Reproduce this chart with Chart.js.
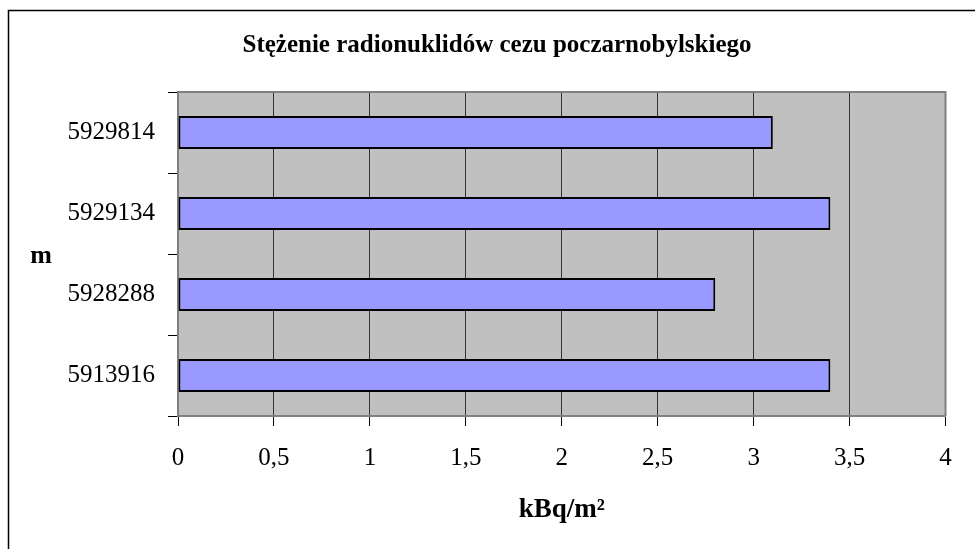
<!DOCTYPE html>
<html>
<head>
<meta charset="utf-8">
<script src="https://cdn.jsdelivr.net/npm/chart.js@4"></script>
<style>
  html, body { margin: 0; padding: 0; background: #fff; }
  #wrap { width: 975px; height: 549px; position: relative; }
</style>
</head>
<body>
<div id="wrap"><canvas id="cezChart"></canvas></div>
<script>
const categories = ["5929814", "5929134", "5928288", "5913916"];
const values = [3.1, 3.4, 2.8, 3.4];
const xTickLabels = ["0", "0,5", "1", "1,5", "2", "2,5", "3", "3,5", "4"];

const serif = "'Liberation Serif', 'Times New Roman', serif";

// gray plot background, plot border, outer frame and the horizontal "m" label
const decor = {
    id: "decor",
    beforeDraw(chart) {
        const { ctx, chartArea: a } = chart;
        ctx.save();
        ctx.fillStyle = "#C0C0C0";
        ctx.fillRect(a.left, a.top, a.right - a.left, a.bottom - a.top);
        ctx.restore();
    },
    afterDraw(chart) {
        const { ctx, chartArea: a } = chart;
        ctx.save();
        ctx.strokeStyle = "#808080";
        ctx.lineWidth = 2;
        ctx.beginPath();
        ctx.moveTo(a.left, a.top);
        ctx.lineTo(a.right, a.top);
        ctx.lineTo(a.right, a.bottom);
        ctx.stroke();

        // outer chart frame (cut at right and bottom)
        ctx.strokeStyle = "#000";
        ctx.lineWidth = 1.5;
        ctx.beginPath();
        ctx.moveTo(8.5, chart.height + 2);
        ctx.lineTo(8.5, 10.5);
        ctx.lineTo(chart.width + 2, 10.5);
        ctx.stroke();

        ctx.fillStyle = "#000";
        ctx.font = "bold 26px " + serif;
        ctx.textAlign = "center";
        ctx.textBaseline = "alphabetic";
        ctx.fillText("m", 41, 263);
        ctx.restore();
    },
};

new Chart(document.getElementById("cezChart"), {
    type: "bar",
    data: {
        labels: categories,
        datasets: [
            {
                data: values,
                backgroundColor: "#9999FF",
                borderColor: "#000",
                borderWidth: 2,
                borderSkipped: false,
                categoryPercentage: 1,
                barPercentage: 0.41,
            },
        ],
    },
    options: {
        indexAxis: "y",
        responsive: true,
        maintainAspectRatio: false,
        animation: false,
        layout: { padding: { left: 48.5, right: 29.5, top: 0, bottom: 0 } },
        plugins: {
            legend: { display: false },
            tooltip: { enabled: false },
            title: {
                display: true,
                text: "Stężenie radionuklidów cezu poczarnobylskiego",
                color: "#000",
                font: { family: serif, size: 25, weight: "bold" },
                padding: { top: 30.6, bottom: 31.4 },
            },
        },
        scales: {
            x: {
                min: 0,
                max: 4,
                ticks: {
                    stepSize: 0.5,
                    color: "#000",
                    font: { family: serif, size: 25 },
                    padding: 17,
                    maxRotation: 0,
                    callback: (v, i) => xTickLabels[i],
                },
                grid: {
                    color: (c) => (c.index === 0 || c.index === xTickLabels.length - 1 ? "rgba(0,0,0,0)" : "#333"),
                    lineWidth: 1,
                    tickColor: "#000",
                    tickLength: 10,
                },
                border: { display: true, color: "#808080", width: 2 },
                title: {
                    display: true,
                    text: "kBq/m²",
                    color: "#000",
                    font: { family: serif, size: 27, weight: "bold" },
                    padding: { top: 0, bottom: 23 },
                },
                afterFit: (s) => { s.height = 133; },
            },
            y: {
                ticks: {
                    color: "#000",
                    font: { family: serif, size: 25 },
                    padding: 13,
                },
                grid: {
                    offset: true,
                    drawOnChartArea: false,
                    color: "#000",
                    tickLength: 10,
                },
                border: { display: true, color: "#808080", width: 2 },
                afterFit: (s) => { s.width = 129.5; },
            },
        },
    },
    plugins: [decor],
});
</script>
</body>
</html>
